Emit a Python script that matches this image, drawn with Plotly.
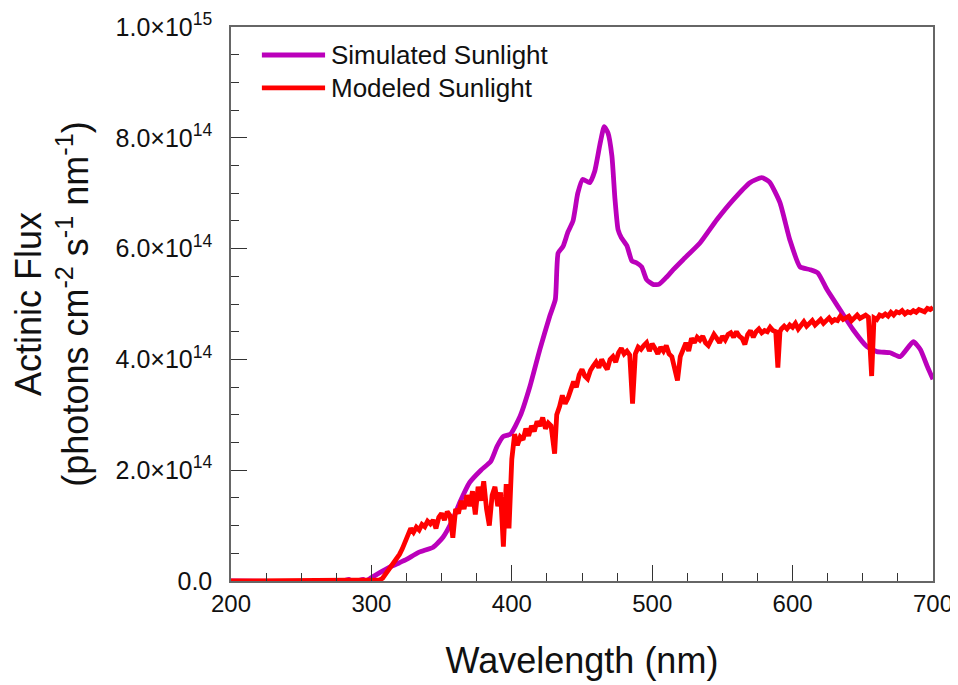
import plotly.graph_objects as go

# ---- data (values in units of 1e14 photons cm-2 s-1 nm-1) ----
sim_wl = [200, 280, 284, 286, 290, 294, 296, 300, 306, 313, 320, 325, 334, 344, 351, 358, 363,
          370, 378, 385, 389.5, 394, 399, 406, 413, 420, 427, 431, 433, 436.5, 440, 443.6, 447,
          450.5, 455.5, 459, 463, 465.8, 468.5, 471.3, 473.5, 475.7, 478, 482, 485.5, 489, 492.5,
          496, 501, 505, 510, 515, 522, 534, 546, 557.7, 569.6, 578, 583.6, 591, 598, 605.3,
          612.4, 618, 624.5, 633.7, 643, 653, 660, 669.5, 676.6, 686, 691, 696, 700]
sim_val = [0, 0, 0.03, 0, 0, 0.03, 0, 0.06, 0.15, 0.25, 0.33, 0.39, 0.52, 0.61, 0.79, 1.11, 1.42,
           1.78, 2.0, 2.16, 2.43, 2.61, 2.65, 2.98, 3.52, 4.18, 4.78, 5.08, 5.92, 6.04, 6.3, 6.5, 7.0,
           7.25, 7.19, 7.39, 7.91, 8.2, 8.09, 7.67, 6.89, 6.34, 6.2, 6.05, 5.78, 5.74, 5.67,
           5.44, 5.35, 5.36, 5.48, 5.62, 5.8, 6.1, 6.52, 6.88, 7.19, 7.28, 7.2, 6.83, 6.16, 5.67,
           5.62, 5.56, 5.26, 4.9, 4.54, 4.23, 4.14, 4.12, 4.05, 4.32, 4.18, 3.87, 3.64]

mod_wl = [200, 300, 302, 304, 306, 308, 310, 312, 314, 316, 318, 320, 322, 324, 326, 328, 330,
          332, 334, 336, 338, 340, 342, 344, 346, 348, 350, 352, 354, 356, 358, 360, 362, 364,
          366, 368, 370, 372, 374, 376, 378, 380, 382, 384, 386, 388, 390, 392, 394, 396, 398,
          400, 402, 404, 406, 408, 410, 412, 414, 416, 418, 420, 422, 424, 426, 428, 430.5, 432,
          434, 436, 438, 440, 442, 444, 446, 448, 450, 452, 454, 456, 458, 460, 462, 464, 466,
          468, 470, 472, 474, 476, 478, 480, 482, 484, 486, 488, 490, 492, 494, 496, 498, 500,
          502, 504, 506, 508, 510, 512, 514, 516, 518, 520, 522, 524, 526, 528, 530, 532, 534,
          536, 538, 540, 542, 544, 546, 548, 550, 552, 554, 556, 558, 560, 562, 564, 566, 568,
          570, 572, 574, 576, 578, 580, 582, 584, 586, 588, 589.5, 591, 592, 594, 596, 598, 600,
          602, 604, 606, 608, 610, 612, 614, 616, 618, 620, 622, 624, 626, 628, 630, 632, 634,
          636, 638, 640, 642, 644, 646, 648, 650, 652, 654, 656.3, 658, 660, 662, 664, 666, 668,
          670, 672, 674, 676, 678, 680, 682, 684, 686, 688, 690, 692, 694, 696, 698, 700]
mod_val = [0, 0, 0, 0, 0.02, 0.05, 0.12, 0.18, 0.25, 0.32, 0.40, 0.48, 0.58, 0.72, 0.85, 0.95, 0.88,
           0.97, 0.92, 1.02, 0.98, 1.08, 1.03, 1.10, 0.95, 1.15, 1.22, 1.10, 1.25, 1.18, 0.78, 1.30, 1.22, 1.45,
           1.30, 1.55, 1.35, 1.62, 1.20, 1.70, 1.45, 1.80, 1.30, 1.00, 1.55, 1.70, 1.35, 1.60, 0.62, 1.75, 0.95,
           2.20, 2.65, 2.45, 2.60, 2.55, 2.75, 2.62, 2.80, 2.70, 2.88, 2.80, 2.95, 2.75, 2.85, 2.80, 2.30, 3.00,
           3.15, 3.35, 3.20, 3.30, 3.45, 3.60, 3.50, 3.72, 3.82, 3.70, 3.65, 3.80, 3.88, 3.95, 3.85, 4.00, 3.90,
           3.82, 4.00, 4.05, 3.95, 4.12, 4.20, 4.10, 4.15, 4.08, 3.20, 4.10, 4.22, 4.18, 4.25, 4.30, 4.15, 4.28,
           4.20, 4.10, 4.22, 4.15, 4.25, 4.10, 4.05, 3.80, 3.62, 4.05, 4.20, 4.30, 4.15, 4.38, 4.30, 4.40, 4.35,
           4.42, 4.30, 4.25, 4.35, 4.45, 4.38, 4.30, 4.42, 4.35, 4.45, 4.48, 4.40, 4.50, 4.42, 4.38, 4.27, 4.45,
           4.52, 4.40, 4.50, 4.55, 4.48, 4.52, 4.50, 4.58, 4.52, 4.50, 3.85, 4.50, 4.55, 4.60, 4.55, 4.62, 4.58,
           4.65, 4.55, 4.62, 4.68, 4.60, 4.65, 4.70, 4.62, 4.68, 4.72, 4.65, 4.70, 4.75, 4.68, 4.72, 4.70, 4.78,
           4.72, 4.75, 4.78, 4.70, 4.76, 4.80, 4.74, 4.78, 4.80, 4.76, 3.70, 4.75, 4.72, 4.80, 4.78, 4.82, 4.78,
           4.85, 4.80, 4.86, 4.84, 4.88, 4.82, 4.86, 4.84, 4.88, 4.85, 4.90, 4.88, 4.86, 4.92, 4.90, 4.94]

series_names = ["Simulated Sunlight", "Modeled Sunlight"]
series_colors = ["#BB00BB", "#FF0000"]

y_tickvals = [0, 2e14, 4e14, 6e14, 8e14, 1e15]
y_ticktext = ["0.0", "2.0×10<sup>14</sup>", "4.0×10<sup>14</sup>", "6.0×10<sup>14</sup>",
              "8.0×10<sup>14</sup>", "1.0×10<sup>15</sup>"]
x_tickvals = [200, 300, 400, 500, 600, 700]

SCALE = 1e14
FONT = "Liberation Sans, Arial, sans-serif"

fig = go.Figure()
fig.add_trace(go.Scatter(x=sim_wl, y=[v * SCALE for v in sim_val], mode="lines",
                         name=series_names[0], showlegend=False,
                         line=dict(color=series_colors[0], width=4.8, shape="spline", smoothing=0.5)))
fig.add_trace(go.Scatter(x=mod_wl, y=[v * SCALE for v in mod_val], mode="lines",
                         name=series_names[1], showlegend=False,
                         line=dict(color=series_colors[1], width=4.8)))

axis_common = dict(showline=True, linecolor="#666666", linewidth=1.5, mirror=True,
                   showgrid=False, zeroline=False, ticks="inside", tickcolor="#333333",
                   tickwidth=1, ticklen=16, automargin=False)

fig.update_xaxes(range=[200, 700], tickmode="array", tickvals=x_tickvals,
                 tickfont=dict(family=FONT, size=24, color="#111111"),
                 minor=dict(tickmode="linear", tick0=200, dtick=25, ticks="inside",
                            ticklen=8, tickcolor="#333333", tickwidth=1),
                 title=dict(text="Wavelength (nm)", font=dict(family=FONT, size=36, color="#111111"),
                            standoff=32),
                 **axis_common)
fig.update_yaxes(range=[0, 1e15], tickmode="array", tickvals=y_tickvals, ticktext=y_ticktext,
                 tickfont=dict(family=FONT, size=25, color="#111111"),
                 minor=dict(tickmode="linear", tick0=0, dtick=5e13, ticks="inside",
                            ticklen=8, tickcolor="#333333", tickwidth=1),
                 ticklabelstandoff=12,
                 title=dict(text="Actinic Flux<br>(photons cm<sup>-2</sup> s<sup>-1</sup> nm<sup>-1</sup>)",
                            font=dict(family=FONT, size=36, color="#111111"), standoff=19),
                 **axis_common)

# custom legend (long line samples, as in the reference)
legend_y = [0.9495, 0.890]
for name, color, ly in zip(series_names, series_colors, legend_y):
    fig.add_shape(type="line", xref="paper", yref="paper", x0=0.044, x1=0.134, y0=ly, y1=ly,
                  line=dict(color=color, width=4.8))
    fig.add_annotation(xref="paper", yref="paper", x=0.1395, y=ly, text=name, showarrow=False,
                       xanchor="left", yanchor="middle",
                       font=dict(family=FONT, size=26, color="#111111"))

fig.update_layout(
    width=950, height=677,
    margin=dict(l=223, r=25, t=19, b=104),
    paper_bgcolor="white", plot_bgcolor="white",
    showlegend=False,
)

fig.write_html("out.html")
